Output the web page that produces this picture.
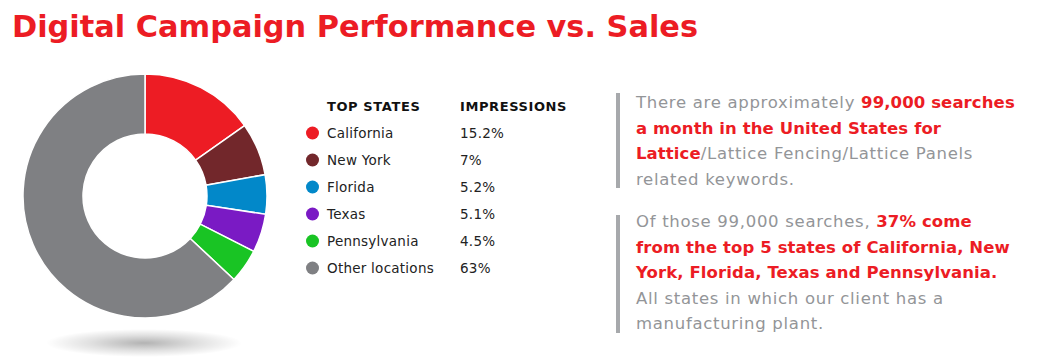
<!DOCTYPE html>
<html>
<head>
<meta charset="utf-8">
<script src="https://cdn.jsdelivr.net/npm/d3@7"></script>
<style>
	body { margin: 0; background: #fff; }
	svg { display: block; }
</style>
</head>
<body>
<script>
const states = ['California', 'New York', 'Florida', 'Texas', 'Pennsylvania', 'Other locations'];
const impressions = [15.2, 7, 5.2, 5.1, 4.5, 63];
const valueLabels = ['15.2%', '7%', '5.2%', '5.1%', '4.5%', '63%'];
const headers = ['TOP STATES', 'IMPRESSIONS'];

// each line is a list of [text, isHighlighted]
const block1 = [
	[['There are approximately ', false], ['99,000 searches', true]],
	[['a month in the United States for', true]],
	[['Lattice', true], ['/Lattice Fencing/Lattice Panels', false]],
	[['related keywords.', false]],
];
const block2 = [
	[['Of those 99,000 searches, ', false], ['37% come', true]],
	[['from the top 5 states of California, New', true]],
	[['York, Florida, Texas and Pennsylvania.', true]],
	[['All states in which our client has a', false]],
	[['manufacturing plant.', false]],
];

const w = 1038;
const h = 363;
const font = "'DejaVu Sans', sans-serif";
const red = '#ec1c24';

const color = d3
	.scaleOrdinal()
	.domain(states)
	.range(['#ed1c24', '#72272b', '#0288c9', '#7a1ac4', '#19c424', '#7f8083']);

const svg = d3
	.select('body')
	.append('svg')
	.attr('width', w)
	.attr('height', h);

// title
svg
	.append('text')
	.attr('x', 12)
	.attr('y', 37)
	.attr('font-family', font)
	.attr('font-weight', 'bold')
	.attr('font-size', 31)
	.attr('fill', red)
	.attr('textLength', 686)
	.attr('lengthAdjust', 'spacingAndGlyphs')
	.text('Digital Campaign Performance vs. Sales');

// shadow under donut
const grad = svg
	.append('defs')
	.append('radialGradient')
	.attr('id', 'shadow');
grad.append('stop').attr('offset', '0%').attr('stop-color', '#000').attr('stop-opacity', 0.3);
grad.append('stop').attr('offset', '55%').attr('stop-color', '#000').attr('stop-opacity', 0.12);
grad.append('stop').attr('offset', '100%').attr('stop-color', '#000').attr('stop-opacity', 0);

svg
	.append('ellipse')
	.attr('cx', 144)
	.attr('cy', 343)
	.attr('rx', 98)
	.attr('ry', 14)
	.attr('fill', 'url(#shadow)');

// donut
const pie = d3
	.pie()
	.sort(null)
	.value(d => d);

const arc = d3
	.arc()
	.innerRadius(62)
	.outerRadius(122);

const donut = svg
	.append('g')
	.attr('transform', 'translate(145,196)');

donut
	.selectAll('path')
	.data(pie(impressions))
	.enter()
	.append('path')
	.attr('d', arc)
	.attr('fill', (d, i) => color(states[i]))
	.attr('stroke', '#fff')
	.attr('stroke-width', 1.5);

// legend
const legend = svg.append('g').attr('font-family', font);

legend
	.selectAll('text.header')
	.data(headers)
	.enter()
	.append('text')
	.attr('class', 'header')
	.attr('x', (d, i) => (i === 0 ? 327 : 460))
	.attr('y', 111)
	.attr('font-size', 13)
	.attr('font-weight', 'bold')
	.attr('letter-spacing', 0.6)
	.attr('fill', '#111')
	.text(d => d);

const rowY = d3
	.scalePoint()
	.domain(states)
	.range([133, 268]);

const rows = legend
	.selectAll('g.row')
	.data(states)
	.enter()
	.append('g')
	.attr('class', 'row')
	.attr('transform', d => `translate(0,${rowY(d)})`);

rows
	.append('circle')
	.attr('cx', 312.5)
	.attr('cy', 0)
	.attr('r', 6.5)
	.attr('fill', d => color(d));

rows
	.append('text')
	.attr('x', 327)
	.attr('y', 5)
	.attr('font-size', 13.5)
	.attr('letter-spacing', 0.25)
	.attr('fill', '#222')
	.text(d => d);

rows
	.append('text')
	.attr('x', 460)
	.attr('y', 5)
	.attr('font-size', 13.5)
	.attr('letter-spacing', 0.25)
	.attr('fill', '#222')
	.text((d, i) => valueLabels[i]);

// right text blocks
function drawBlock(lines, top, barTop, barBottom) {
	svg
		.append('rect')
		.attr('x', 616)
		.attr('y', barTop)
		.attr('width', 4)
		.attr('height', barBottom - barTop)
		.attr('fill', '#a7a9ac');

	const t = svg
		.append('g')
		.attr('font-family', font)
		.attr('font-size', 16.5);

	lines.forEach((line, i) => {
		const txt = t
			.append('text')
			.attr('x', 636)
			.attr('y', top + i * 25.6);
		line.forEach(([s, hi]) => {
			txt
				.append('tspan')
				.attr('fill', hi ? red : '#939598')
				.attr('font-weight', hi ? 'bold' : 'normal')
				.attr('letter-spacing', hi ? 0.1 : 0.7)
				.text(s);
		});
	});
}

drawBlock(block1, 108, 93, 188);
drawBlock(block2, 227, 215, 333);
</script>
</body>
</html>
